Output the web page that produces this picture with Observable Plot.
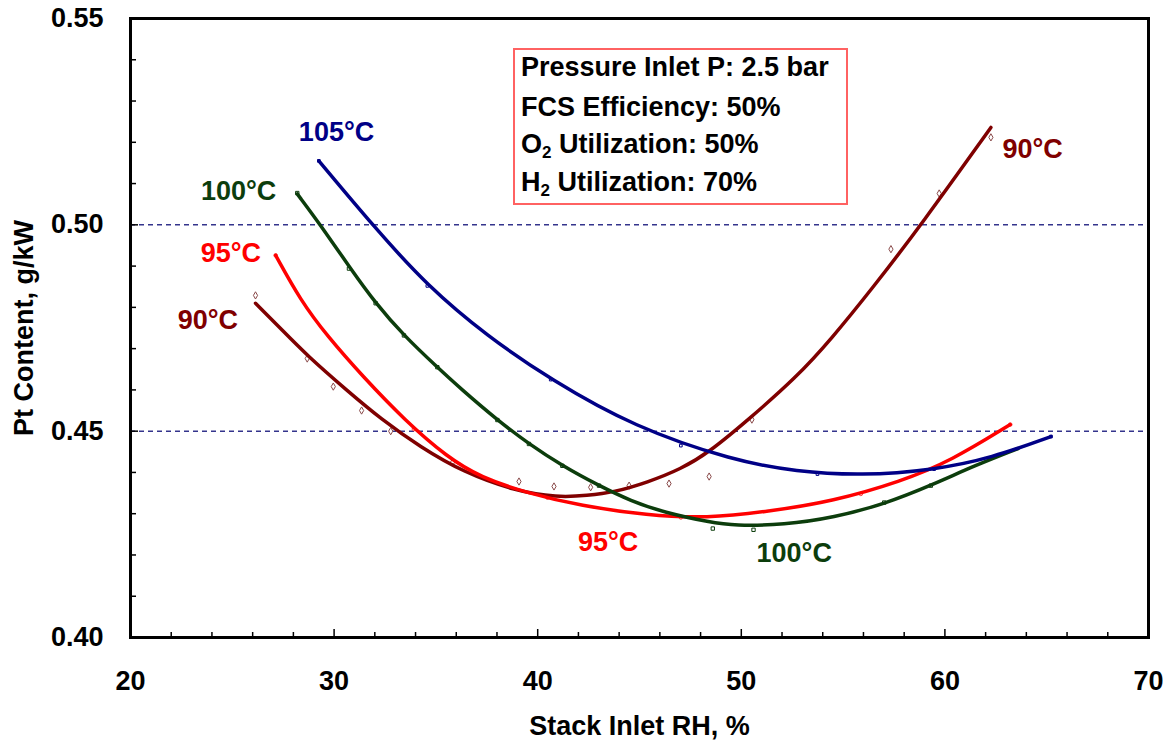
<!DOCTYPE html>
<html>
<head>
<meta charset="utf-8">
<script src="https://cdn.jsdelivr.net/npm/d3@7"></script>
<script src="https://cdn.jsdelivr.net/npm/@observablehq/plot@0.6"></script>
<style>
  body { margin: 0; background: #fff; }
  #wrap { position: relative; width: 1163px; height: 740px; font-family: "Liberation Sans", Arial, sans-serif; }
  #info { position: absolute; left: 513px; top: 48px; width: 335px; height: 157px; box-sizing: border-box;
          border: 2px solid #ff6262; background: #fff; }
  #info div { position: absolute; left: 6px; font-size: 27px; line-height: 27px; font-weight: bold; color: #000; white-space: nowrap; }
  #info sub { font-size: 17px; line-height: 0; vertical-align: -5px; }
</style>
</head>
<body>
<div id="wrap"></div>
<script>
// ---- Data ----
// Fitted curves: Stack inlet RH (%) and Pt content (g/kW)
const rh90  = [26.14, 27.37, 28.68, 30.65, 32.29, 34.25, 36.38, 38.84, 40.97, 42.44, 43.75, 45.39, 47.03, 48.42, 50.3, 52.7, 54.4, 56.5, 58.82, 62.26];
const pt90  = [0.4810, 0.4749, 0.4683, 0.4598, 0.4530, 0.4461, 0.4400, 0.4356, 0.4339, 0.4344, 0.4352, 0.4376, 0.4408, 0.4449, 0.4526, 0.4630, 0.4722, 0.4850, 0.4999, 0.5236];

const rh95  = [27.13, 28.35, 29.67, 31.4, 33.5, 35.56, 37.2, 39.5, 42.11, 45.39, 48.3, 51.3, 54.5, 57.84, 60.3, 63.21];
const pt95  = [0.4926, 0.4817, 0.4730, 0.4633, 0.4525, 0.4437, 0.4388, 0.4350, 0.4319, 0.4296, 0.4289, 0.4305, 0.4330, 0.4378, 0.4428, 0.4516];

const rh100 = [28.19, 29.34, 30.81, 32.04, 33.42, 35.07, 36.22, 38.02, 39.57, 41.21, 43.01, 44.57, 46.21, 48.5, 49.65, 52.1, 54.56, 57.02, 59.47, 61.44, 63.6];
const pt100 = [0.5075, 0.4999, 0.4894, 0.4810, 0.4732, 0.4655, 0.4603, 0.4527, 0.4469, 0.4416, 0.4368, 0.4331, 0.4303, 0.4279, 0.4271, 0.4273, 0.4291, 0.4323, 0.4372, 0.4416, 0.4458];

const rh105 = [29.25, 31.96, 34.58, 37.53, 40.64, 44.73, 49.65, 52.7, 55.9, 59.47, 62.3, 65.21];
const pt105 = [0.5155, 0.4995, 0.4852, 0.4730, 0.4625, 0.4510, 0.4428, 0.4402, 0.4392, 0.4406, 0.4435, 0.4487];

// Measured points (small hollow markers)
const mrh90  = [26.14, 28.68, 29.96, 31.35, 32.78, 35.81, 39.08, 40.8, 42.6, 44.49, 46.45, 48.42, 50.52, 57.35, 59.72, 62.26];
const mpt90  = [0.4829, 0.4676, 0.4608, 0.4550, 0.4500, 0.4424, 0.4378, 0.4366, 0.4364, 0.4368, 0.4373, 0.4390, 0.4528, 0.4941, 0.5076, 0.5212];
const mrh95  = [27.13, 33.92, 40.48, 47.03, 55.87, 63.21];
const mpt95  = [0.4926, 0.4505, 0.4339, 0.4291, 0.4348, 0.4516];
const mrh100 = [28.19, 30.73, 32.04, 33.43, 35.07, 38.02, 39.57, 41.21, 43.01, 48.6, 50.6, 57.02, 59.31];
const mpt100 = [0.5077, 0.4894, 0.4810, 0.4732, 0.4655, 0.4527, 0.4469, 0.4416, 0.4368, 0.4264, 0.4261, 0.4327, 0.4368];
const mrh105 = [29.25, 34.58, 40.64, 47.03, 53.74, 59.47, 65.21];
const mpt105 = [0.5155, 0.4852, 0.4625, 0.4465, 0.4396, 0.4408, 0.4487];

const seriesNames = ["90°C", "95°C", "100°C", "105°C"];
const seriesColors = ["#7f0000", "#ff0000", "#0c3d0c", "#000086"];

// Curve labels (text, series, position in data units)
const labelText   = ["105°C", "100°C", "95°C", "90°C", "95°C", "100°C", "90°C"];
const labelSeries = ["105°C", "100°C", "95°C", "90°C", "95°C", "100°C", "90°C"];
const labelRH     = [30.12, 25.31, 24.93, 23.8, 43.46, 52.6, 64.31];
const labelPt     = [0.5225, 0.5081, 0.4932, 0.4768, 0.4231, 0.4205, 0.5183];

// Axes
const xMajor = [20, 30, 40, 50, 60, 70];
const xMinor = [22, 24, 26, 28, 32, 34, 36, 38, 42, 44, 46, 48, 52, 54, 56, 58, 62, 64, 66, 68];
const yMajor = [0.40, 0.45, 0.50, 0.55];
const yMinor = [0.41, 0.42, 0.43, 0.44, 0.46, 0.47, 0.48, 0.49, 0.51, 0.52, 0.53, 0.54];
const gridY = [0.45, 0.50];
const xTitle = "Stack Inlet RH, %";
const yTitle = "Pt Content, g/kW";

const infoLines = [
  "Pressure Inlet P: 2.5 bar",
  "FCS Efficiency: 50%",
  "O<sub>2</sub> Utilization: 50%",
  "H<sub>2</sub> Utilization: 70%"
];

// ---- Build tables ----
function rows(name, xs, ys) { return xs.map((x, i) => ({series: name, rh: x, pt: ys[i]})); }
const curves = [
  ...rows("90°C", rh90, pt90), ...rows("95°C", rh95, pt95),
  ...rows("100°C", rh100, pt100), ...rows("105°C", rh105, pt105)
];
const marks90 = rows("90°C", mrh90, mpt90);
const marks95 = rows("95°C", mrh95, mpt95);
const marks100 = rows("100°C", mrh100, mpt100);
const marks105 = rows("105°C", mrh105, mpt105);
const labels = labelText.map((t, i) => ({t, series: labelSeries[i], rh: labelRH[i], pt: labelPt[i]}));

const font = {fontSize: 27, fontWeight: "bold"};

const chart = Plot.plot({
  width: 1163,
  height: 740,
  marginLeft: 130,
  marginRight: 15,
  marginTop: 18,
  marginBottom: 103,
  style: {fontFamily: "'Liberation Sans', Arial, sans-serif", background: "#fff", color: "#000"},
  x: {domain: [20, 70]},
  y: {domain: [0.40, 0.55]},
  color: {domain: seriesNames, range: seriesColors},
  marks: [
    Plot.ruleY(gridY, {stroke: "#34348c", strokeWidth: 1.5, strokeDasharray: "5,4"}),
    Plot.dot(marks90, {x: "rh", y: "pt", symbol: "diamond", r: 2.2, stroke: "#8a4a4a", fill: "#fff", strokeWidth: 1}),
    Plot.dot(marks100, {x: "rh", y: "pt", symbol: "square", r: 1.9, stroke: "#0c3d0c", fill: "#fff", strokeWidth: 1}),
    Plot.dot(marks95, {x: "rh", y: "pt", symbol: "circle", r: 1.8, stroke: "#ff4040", fill: "#fff", strokeWidth: 1}),
    Plot.dot(marks105, {x: "rh", y: "pt", symbol: "square", r: 1.5, stroke: "#000086", fill: "#fff", strokeWidth: 1}),
    Plot.line(curves, {x: "rh", y: "pt", z: "series", stroke: "series", strokeWidth: 3.5, curve: "basis"}),
    Plot.text(labels, {x: "rh", y: "pt", text: "t", fill: "series", ...font}),
    Plot.axisX(xMajor, {tickSize: 0, tickPadding: 33, label: null, ...font}),
    Plot.axisX(xMajor, {tickSize: -8, tickFormat: () => "", label: null, strokeWidth: 1.5}),
    Plot.axisX(xMinor, {tickSize: -5, tickFormat: () => "", label: null, strokeWidth: 1.5}),
    Plot.axisY(yMajor, {tickSize: 0, tickPadding: 27, tickFormat: d3.format(".2f"), label: null, ...font}),
    Plot.axisY(yMajor, {tickSize: -8, tickFormat: () => "", label: null, strokeWidth: 1.5}),
    Plot.axisY(yMinor, {tickSize: -6, tickFormat: () => "", label: null, strokeWidth: 1.5}),
    Plot.text([xTitle], {text: d => d, frameAnchor: "bottom", textAnchor: "middle", lineAnchor: "middle", dy: 89, ...font}),
    Plot.text([yTitle], {text: d => d, frameAnchor: "left", textAnchor: "middle", lineAnchor: "middle", dx: -106, rotate: -90, ...font}),
    Plot.frame({stroke: "#000", strokeWidth: 3})
  ]
});

const wrap = document.getElementById("wrap");
wrap.appendChild(chart);

const info = document.createElement("div");
info.id = "info";
const lineTops = [4, 44, 81, 119];
infoLines.forEach((html, i) => {
  const d = document.createElement("div");
  d.style.top = lineTops[i] + "px";
  d.innerHTML = html;
  info.appendChild(d);
});
wrap.appendChild(info);
</script>
</body>
</html>
